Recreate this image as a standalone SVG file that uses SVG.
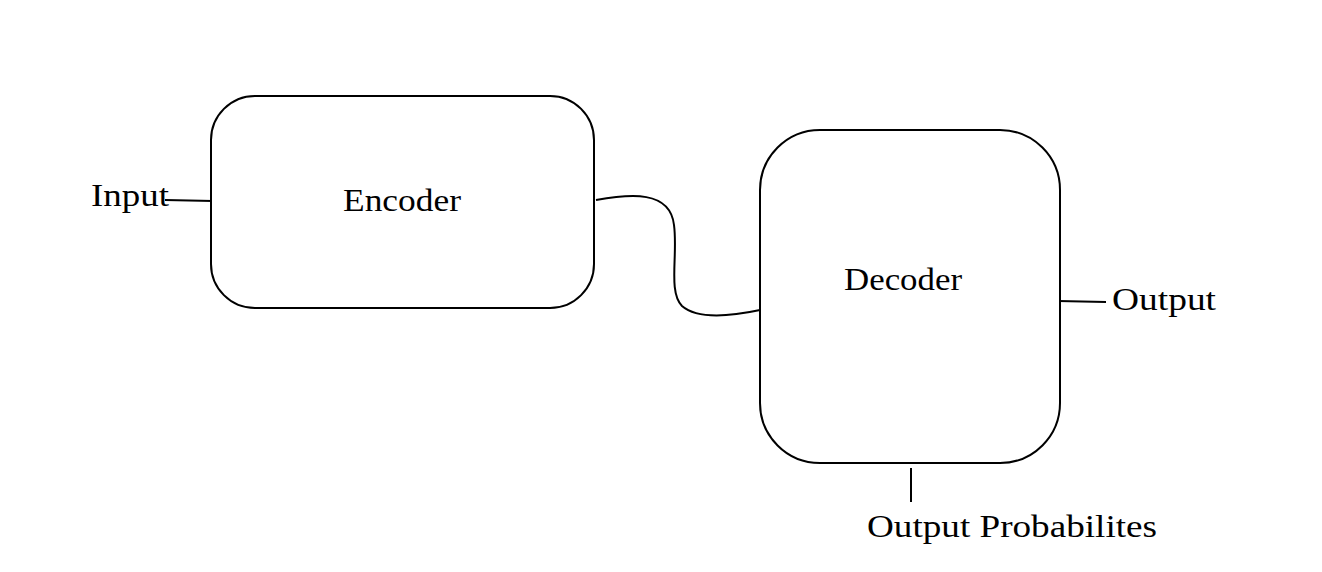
<svg xmlns="http://www.w3.org/2000/svg" width="1322" height="572" viewBox="0 0 1322 572">
<style>
.box{fill:#fff;stroke:#000;stroke-width:2}
.ln{fill:none;stroke:#000;stroke-width:2}
text{font-family:"Liberation Serif","DejaVu Serif",serif;font-size:32px;fill:#000}
</style>
<rect width="1322" height="572" fill="#fff"/>
<g id="connectors">
<path class="ln" d="M165,200 L213,201"/>
<path class="ln" d="M596,200 C630,194 670,190 674,225 C678,255 668,292 682,306 C698,320 732,316 760,310"/>
<path class="ln" d="M1058,301 L1106,302"/>
<path class="ln" d="M911,468 L911,502"/>
</g>
<g id="encoder">
<rect class="box" x="211" y="96" width="383" height="212" rx="44"/>
<text x="343" y="211" textLength="118" lengthAdjust="spacingAndGlyphs">Encoder</text>
</g>
<g id="decoder">
<rect class="box" x="760" y="130" width="300" height="333" rx="60"/>
<text x="844" y="290" textLength="118" lengthAdjust="spacingAndGlyphs">Decoder</text>
</g>
<g id="input">
<text x="91" y="206" textLength="78" lengthAdjust="spacingAndGlyphs">Input</text>
</g>
<g id="output">
<text x="1112" y="310" textLength="104" lengthAdjust="spacingAndGlyphs">Output</text>
</g>
<g id="output-probabilities">
<text x="867" y="537" textLength="290" lengthAdjust="spacingAndGlyphs">Output Probabilites</text>
</g>
</svg>
